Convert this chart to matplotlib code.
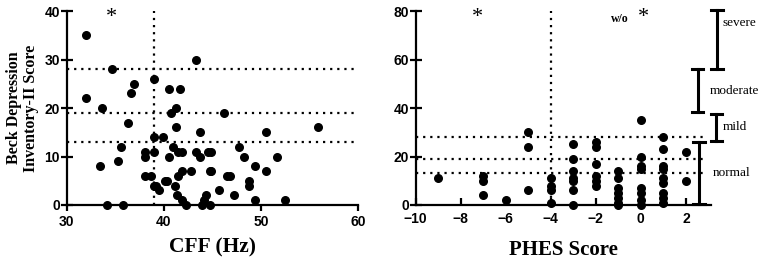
import matplotlib.pyplot as plt

# 左圖：CFF 與 BDI-II
cff_x = [32.0, 32.0, 33.6, 33.4, 34.7, 34.1, 35.3, 35.6, 35.8, 36.3, 36.6, 36.9,
         38.0, 38.0, 38.0, 38.7, 39.0, 39.0, 39.0, 39.0, 39.2, 39.5, 39.9, 40.1,
         40.3, 40.5, 40.5, 40.7, 40.9, 41.1, 41.2, 41.2, 41.3, 41.5, 41.5, 41.7,
         41.9, 41.9, 41.9, 42.3, 42.8, 43.3, 43.3, 43.7, 43.7, 43.9, 44.1, 44.3,
         44.5, 44.7, 44.7, 44.9, 44.9, 45.7, 46.2, 46.5, 46.8, 47.2, 47.7, 48.3,
         48.8, 48.8, 49.4, 49.4, 50.5, 50.5, 51.7, 52.5, 55.9]
cff_y = [35, 22, 20, 8, 28, 0, 9, 12, 0, 17, 23, 25,
         11, 10, 6, 6, 26, 14, 11, 4, 4, 3, 14, 5,
         5, 24, 10, 19, 12, 4, 20, 16, 2, 11, 6, 24,
         1, 11, 7, 0, 7, 30, 11, 15, 10, 0, 1, 2,
         11, 7, 0, 11, 7, 3, 19, 6, 6, 2, 12, 10,
         5, 4, 1, 8, 15, 7, 10, 1, 16]

# 右圖：PHES 與 BDI-II
phes_x = [-9, -7, -7, -7, -6, -5, -5, -5, -4, -4, -4, -4,
          -3, -3, -3, -3, -3, -3, -3, -2, -2, -2, -2, -2, -2,
          -1, -1, -1, -1, -1, -1, -1, 0, 0, 0, 0, 0, 0, 0, 0,
          1, 1, 1, 1, 1, 1, 1, 1, 1, 2, 2]
phes_y = [11, 12, 10, 4, 2, 30, 24, 6, 11, 8, 6, 1,
          25, 19, 14, 11, 10, 6, 0, 26, 24, 17, 12, 10, 8,
          14, 11, 7, 5, 3, 1, 0, 35, 20, 16, 15, 7, 5, 2, 0,
          28, 23, 16, 15, 11, 9, 5, 3, 1, 22, 10]

cutoffs = [13, 19, 28]
severity = ['normal', 'mild', 'moderate', 'severe']
sev_ranges = [(0.5, 26), (26.5, 37.5), (38.5, 56), (56, 80.5)]

serif = ['Liberation Serif', 'DejaVu Serif']
sans = ['Liberation Sans', 'DejaVu Sans']
dot = (0, (1, 2.2))

fig = plt.figure(figsize=(7.6, 2.59), dpi=100)
ax1 = fig.add_axes([0.088, 0.2085, 0.383, 0.749])
ax2 = fig.add_axes([0.547, 0.2085, 0.388, 0.749])

for ax in (ax1, ax2):
    for s in ('top', 'right'):
        ax.spines[s].set_visible(False)
    for s in ('left', 'bottom'):
        ax.spines[s].set_linewidth(1.6)
    ax.tick_params(width=1.6, length=5, labelsize=10)

# 左圖
ax1.scatter(cff_x, cff_y, s=30, color='black', zorder=3, clip_on=False)
for c in cutoffs:
    ax1.plot([30, 60], [c, c], color='black', lw=1.6, ls=dot)
ax1.plot([39, 39], [0, 40], color='black', lw=1.6, ls=dot)
ax1.set_xlim(30, 60)
ax1.set_ylim(0, 40)
ax1.set_xticks([30, 40, 50, 60])
ax1.set_yticks([0, 10, 20, 30, 40])
ax1.tick_params(axis='y', direction='inout', length=8, pad=1)
ax1.tick_params(axis='x', direction='out', length=4, pad=3)
ax1.set_xlabel('CFF (Hz)', family=serif, fontweight='bold', fontsize=15.5, labelpad=6)
ax1.set_ylabel('Beck Depression\nInventory-II Score', family=serif, fontweight='bold',
               fontsize=11.5, labelpad=4, linespacing=1.05)
ax1.text(34.6, 38.6, '*', family=serif, fontsize=16, ha='center', va='center')

# 右圖
ax2.scatter(phes_x, phes_y, s=30, color='black', zorder=3, clip_on=False)
for c in cutoffs:
    ax2.plot([-10, 2.93], [c, c], color='black', lw=1.6, ls=dot, clip_on=False)
ax2.plot([-4, -4], [0, 80], color='black', lw=1.6, ls=dot)
ax2.set_xlim(-10, 3.1)
ax2.set_ylim(0, 80)
ax2.set_xticks([-10, -8, -6, -4, -2, 0, 2])
ax2.set_xticklabels(['\u221210', '\u22128', '\u22126', '\u22124', '\u22122', '0', '2'])
ax2.set_yticks([0, 20, 40, 60, 80])
ax2.tick_params(axis='y', direction='inout', length=8, pad=1)
ax2.tick_params(axis='x', direction='in', length=5, pad=5)
ax2.set_xlabel('PHES Score', family=serif, fontweight='bold', fontsize=15, labelpad=10)
ax2.text(-7.25, 77.5, '*', family=serif, fontsize=16, ha='center', va='center')
ax2.text(0.1, 77.5, '*', family=serif, fontsize=16, ha='center', va='center')
ax2.text(-0.95, 76.5, 'w/o', family=serif, fontweight='bold', fontsize=8.5,
         ha='center', va='center')

# 嚴重程度括號
bx = [2.58, 3.36, 2.53, 3.38]
lx = [3.2, 3.62, 3.07, 3.62]
ly = [13, 32, 47, 75]
for name, (lo, hi), x, tx, ty in zip(severity, sev_ranges, bx, lx, ly):
    ax2.plot([x, x], [lo, hi], color='black', lw=2.2, clip_on=False)
    ax2.plot([x - 0.25, x + 0.25], [lo, lo], color='black', lw=2.2, clip_on=False)
    ax2.plot([x - 0.25, x + 0.25], [hi, hi], color='black', lw=2.2, clip_on=False)
    ax2.text(tx, ty, name, family=serif, fontsize=9.5, ha='left', va='center')

for ax in (ax1, ax2):
    for lab in ax.get_xticklabels() + ax.get_yticklabels():
        lab.set_family(sans)
        lab.set_fontweight('bold')

fig.savefig('out.png', dpi=100)
